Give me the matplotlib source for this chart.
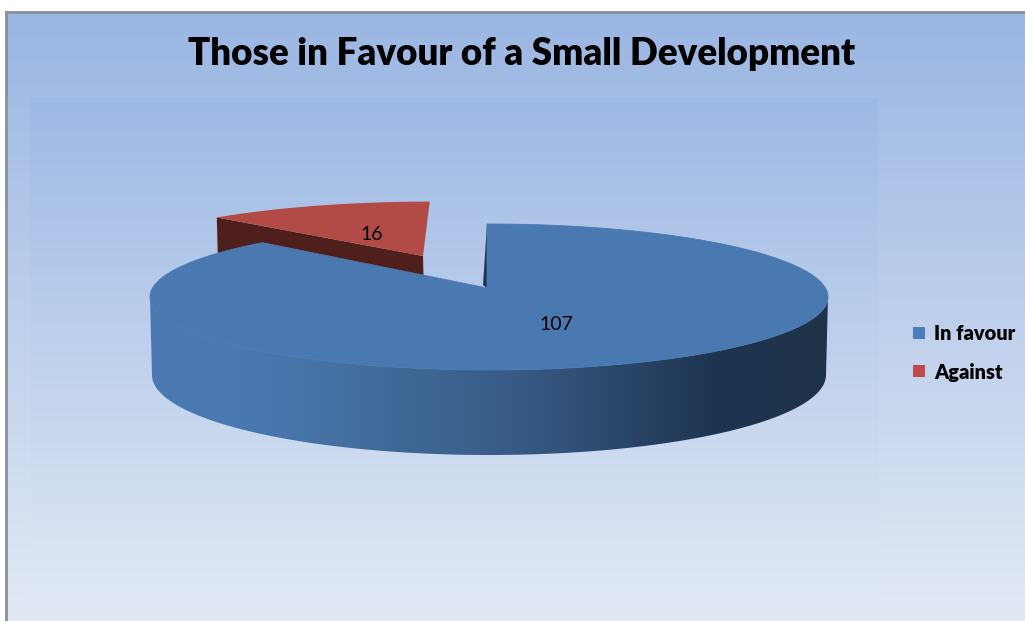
import numpy as np
import matplotlib
matplotlib.use("Agg")
import matplotlib.pyplot as plt
from matplotlib.colors import LinearSegmentedColormap
from matplotlib.patches import Polygon, Rectangle

labels = ["In favour", "Against"]
values = [107, 16]
colors = ["#4a79b2", "#b24a45"]
legend_colors = ["#4a7ebb", "#be4b48"]
title = "Those in Favour of a Small Development"

W, H = 1025, 621
CX, CY, A, B = 489, 297, 339, 73      # top face ellipse
APEX = np.array([487.0, 288.0])       # where the slices meet (perspective shifted)
BX, BY, BA, BB = 489, 375, 337, 80    # bottom rim ellipse


def rim(theta):
    # point on the top ellipse for a clockwise angle from 12 o'clock
    px = (APEX[0] - CX) / A
    py = (APEX[1] - CY) / B
    dx, dy = np.sin(theta), -np.cos(theta)
    pd = px * dx + py * dy
    t = -pd + np.sqrt(pd ** 2 - (px ** 2 + py ** 2) + 1)
    return np.column_stack([CX + A * (px + t * dx), CY + B * (py + t * dy)])


fig = plt.figure(figsize=(W / 100, H / 100), dpi=100, facecolor="white")
ax = fig.add_axes([0, 0, 1, 1])
ax.axis("off")

# chart area and plot area backgrounds
bg = LinearSegmentedColormap.from_list("bg", ["#9ab6e3", "#e2e9f5"])
ax.imshow(np.linspace(0, 1, 256)[:, None], cmap=bg, extent=[6, W, H, 12], aspect="auto", zorder=1)
plot_bg = LinearSegmentedColormap.from_list("plot_bg", ["#9eb9e5", "#e0e8f4"])
ax.imshow(np.linspace(0, 1, 256)[:, None], cmap=plot_bg, extent=[30, 878, 605, 98], aspect="auto", zorder=2)
ax.plot([6, 6], [H, 12], color="#8a8f96", lw=2, zorder=3, solid_capstyle="projecting")
ax.plot([6, W], [12, 12], color="#8a8f96", lw=2, zorder=3, solid_capstyle="projecting")

total = sum(values)
split = 2 * np.pi * values[0] / total

# Against slice, pulled out towards the back
red_arc = rim(np.linspace(split, 2 * np.pi, 60)) - APEX
red_arc = np.column_stack([0.94 * red_arc[:, 0] - 0.105 * red_arc[:, 1], 0.85 * red_arc[:, 1]])
red_tip = np.array([423.0, 256.0])
red_top = np.vstack([red_tip, red_arc + red_tip])
edge = np.array([red_top[1], red_tip])
red_wall = np.vstack([edge, edge[::-1] + [1, 40]])
ax.add_patch(Polygon(red_wall, closed=True, fc="#4f1f1b", ec="none", zorder=4))
ax.add_patch(Polygon(red_top, closed=True, fc=colors[1], ec="none", zorder=5))

# In favour slice: side wall with a left to right shading
top_x = CX + A * np.cos(np.linspace(np.pi, 0, 200))
top_y = CY + B * np.sin(np.linspace(np.pi, 0, 200))
bot_x = BX + BA * np.cos(np.linspace(0, np.pi, 200))
bot_y = BY + BB * np.sin(np.linspace(0, np.pi, 200))
wall = np.vstack([np.column_stack([top_x, top_y]), np.column_stack([bot_x, bot_y])])
shade = LinearSegmentedColormap.from_list(
    "shade",
    [(0, "#4a79b2"), (0.14, "#4a79b2"), (0.3, "#436e9f"), (0.55, "#375a84"), (0.835, "#1e3450"), (1, "#1f3349")],
)
wall_patch = Polygon(wall, closed=True, fc="none", ec="none", zorder=6)
ax.add_patch(wall_patch)
im = ax.imshow(np.linspace(0, 1, 256)[None, :], cmap=shade, extent=[150, 828, 460, 290], aspect="auto", zorder=6)
im.set_clip_path(wall_patch)

# thin cut face beside the gap
start = rim(np.array([0.0]))[0]
ax.add_patch(Polygon([start, [483, 285], APEX], closed=True, fc="#1e3450", ec="none", zorder=7))

blue_top = np.vstack([APEX, rim(np.linspace(0, split, 300))])
ax.add_patch(Polygon(blue_top, closed=True, fc=colors[0], ec=colors[0], lw=0.6, zorder=8))

ax.set_xlim(0, W)
ax.set_ylim(H, 0)

ax.text(372, 234, str(values[1]), ha="center", va="center", fontsize=14, family="Lato", color="black", zorder=9)
ax.text(556, 324, str(values[0]), ha="center", va="center", fontsize=14, family="Lato", color="black", zorder=9)
ax.text(522, 54, title, ha="center", va="center", fontsize=26.5, family="Lato", weight="heavy", color="black", zorder=9)

# legend
for name, c, y in zip(labels, legend_colors, [333, 371]):
    ax.add_patch(Rectangle((913, y - 6.5), 12, 12.5, fc=c, ec="none", zorder=9))
    ax.text(934, y + 1, name, ha="left", va="center", fontsize=14.4, family="Lato", weight="heavy", color="black", zorder=9)

fig.savefig("out.png", dpi=100)
